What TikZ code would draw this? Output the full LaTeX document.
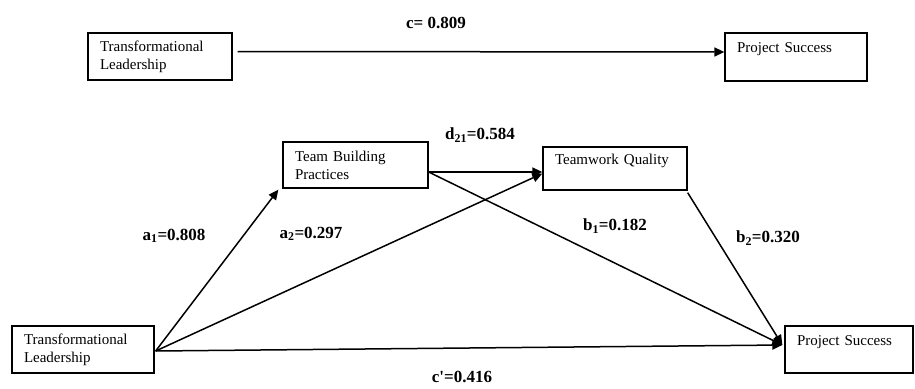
\documentclass[tikz,border=0pt]{standalone}
\usepackage{fontspec}
\setmainfont{Liberation Serif}
\usetikzlibrary{arrows.meta,calc}
\begin{document}
\begin{tikzpicture}[x=1pt,y=-1pt,
  box/.style={draw,line width=1.3pt,inner xsep=12pt,inner ysep=0pt,align=left,
    font=\fontsize{15}{18}\selectfont},
  lbl/.style={inner sep=0pt,font=\fontsize{17}{20}\selectfont\bfseries},
  conn/.style={line width=1.5pt},
  arr/.style={conn,-{Triangle[length=10pt,width=9pt]}}]
\useasboundingbox (0,0) rectangle (915,388);
% boxes
\node[box,minimum width=144pt,minimum height=47pt,text width=120pt] (TLtop) at (160,56.5) {Transformational\\Leadership};
\node[box,minimum width=142pt,minimum height=48pt,text width=118pt] (PStop) at (796,57) {Project Success\\\mbox{}};
\node[box,minimum width=145pt,minimum height=46pt,text width=121pt] (TBP) at (355.5,165) {Team Building\\Practices};
\node[box,minimum width=144pt,minimum height=43pt,text width=120pt] (TQ) at (615,168.5) {Teamwork Quality\\\mbox{}};
\node[box,minimum width=142pt,minimum height=47pt,text width=118pt] (TLbot) at (83,349.5) {Transformational\\Leadership};
\node[box,minimum width=128pt,minimum height=47pt,text width=104pt] (PSbot) at (849,349.5) {Project Success\\\mbox{}};
% labels
\node[lbl] (lc) at (436,23) {c= 0.809};
\node[lbl] (ld) at (480,135) {d\textsubscript{21}=0.584};
\node[lbl] (la1) at (174,236) {a\textsubscript{1}=0.808};
\node[lbl] (la2) at (311,234) {a\textsubscript{2}=0.297};
\node[lbl] (lb1) at (615,226) {b\textsubscript{1}=0.182};
\node[lbl] (lb2) at (768,238) {b\textsubscript{2}=0.320};
\node[lbl] (lcp) at (462,377) {c\textquotesingle=0.416};
% connection points
\coordinate (s) at ($(TLbot.east)+(1,1.5)$);
\coordinate (t) at ($(PSbot.west)+(-2,-4.5)$);
\coordinate (tbpout) at ($(TBP.east)+(0,7)$);
% connectors
\draw[arr] ($(TLtop.east)+(5,-5)$) -- ($(PStop.west)+(0,-5)$);
\draw[arr] (s) -- ($(TBP.south west)+(-4,1)$);
\draw[arr] (s) -- ($(TQ.west)+(0,5)$);
\draw[arr] (tbpout) -- ($(TQ.west)+(0,3.5)$);
\draw[arr] (tbpout) -- (t);
\draw[arr] ($(TQ.south east)+(0,2)$) -- (t);
\draw[arr] (s) -- (t);
\end{tikzpicture}
\end{document}
